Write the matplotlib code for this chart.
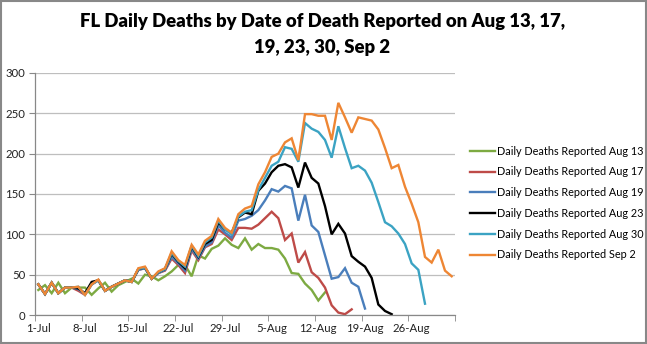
import numpy as np
import matplotlib.pyplot as plt
from matplotlib.patches import Rectangle

# days counted from 1-Jul (day 0) to 1-Sep (day 62)
tick_days = [0, 7, 14, 21, 28, 35, 42, 49, 56]
tick_labels = ["1-Jul", "8-Jul", "15-Jul", "22-Jul", "29-Jul", "5-Aug", "12-Aug", "19-Aug", "26-Aug"]

# daily deaths by date of death, one list per report date
aug13 = [31, 37, 27, 40, 27, 34, 34, 34, 25, 33,
         40, 29, 37, 41, 45, 39, 50, 48, 43, 48,
         54, 62, 62, 48, 74, 70, 82, 86, 95, 87,
         83, 95, 81, 88, 83, 83, 81, 70, 52, 51,
         39, 31, 18, 28]
aug17 = [38, 26, 40, 27, 34, 34, 30, 25, 38, 43,
         30, 35, 39, 43, 41, 56, 58, 45, 52, 55,
         70, 62, 52, 80, 68, 84, 88, 106, 100, 93,
         108, 108, 107, 112, 120, 128, 120, 93, 101, 65,
         78, 53, 46, 34, 12, 3, 1, 7]
aug19 = [38, 26, 40, 27, 34, 34, 32, 26, 38, 43,
         30, 35, 39, 43, 41, 56, 58, 45, 52, 56,
         72, 64, 55, 82, 70, 85, 90, 111, 102, 96,
         117, 119, 123, 130, 142, 156, 153, 160, 157, 117,
         149, 111, 103, 74, 45, 47, 58, 40, 35, 8]
aug23 = [38, 26, 40, 27, 34, 34, 33, 27, 41, 43,
         30, 35, 39, 43, 41, 57, 59, 45, 53, 57,
         76, 66, 58, 85, 72, 88, 93, 115, 106, 102,
         121, 127, 125, 154, 163, 177, 185, 187, 183, 158,
         189, 170, 163, 135, 100, 113, 101, 73, 66, 60,
         46, 13, 5, 1]
aug30 = [38, 26, 40, 27, 34, 34, 35, 25, 38, 43,
         30, 35, 39, 43, 41, 57, 59, 45, 53, 57,
         77, 67, 60, 86, 73, 90, 96, 117, 106, 100,
         122, 128, 130, 155, 170, 185, 190, 208, 206, 190,
         238, 231, 227, 217, 195, 234, 207, 182, 185, 179,
         164, 140, 115, 110, 101, 88, 64, 56, 14]
sep2 = [38, 26, 40, 27, 34, 34, 35, 25, 38, 44,
        30, 35, 39, 43, 41, 58, 60, 45, 54, 58,
        79, 68, 62, 87, 75, 92, 98, 119, 108, 102,
        125, 132, 135, 162, 177, 196, 200, 214, 219, 192,
        249, 249, 247, 247, 217, 263, 245, 226, 245, 243,
        241, 230, 207, 182, 186, 159, 138, 115, 72, 65,
        81, 55, 48]

series = [aug13, aug17, aug19, aug23, aug30, sep2]
names = ["Daily Deaths Reported Aug 13", "Daily Deaths Reported Aug 17",
         "Daily Deaths Reported Aug 19", "Daily Deaths Reported Aug 23",
         "Daily Deaths Reported Aug 30", "Daily Deaths Reported Sep 2"]
colors = ["#7DAA42", "#BE4B48", "#4A7EBB", "#000000", "#3BA3C3", "#EE8634"]

plt.rcParams['font.family'] = ['Lato', 'DejaVu Sans']

fig = plt.figure(figsize=(6.47, 3.44), dpi=100)
ax = fig.add_axes([35/647, 1-315/344, 420/647, 242/344])

for vals, name, c in zip(series, names, colors):
    ax.plot(np.arange(len(vals)), vals, color=c, lw=1.7, label=name,
            solid_joinstyle='miter')

ax.set_xlim(-0.5, 62.5)
ax.set_ylim(0, 300)
ax.set_yticks(np.arange(0, 301, 50))
ax.set_xticks(tick_days)
ax.set_xticklabels(tick_labels)
ax.set_xticks(np.arange(-0.5, 63, 7), minor=True)
ax.tick_params(axis='x', which='major', length=0, labelsize=8.2, pad=6, colors='#222222')
ax.tick_params(axis='x', which='minor', length=4, color='#888888', direction='out')
ax.tick_params(axis='y', length=4, color='#888888', labelsize=8.2, colors='#222222', pad=3)
ax.tick_params(axis='y', color='#888888')
ax.grid(axis='y', color='#BEBEBE', lw=0.9)
ax.set_axisbelow(True)
for s in ['top', 'right']:
    ax.spines[s].set_visible(False)
for s in ['left', 'bottom']:
    ax.spines[s].set_color('#888888')
    ax.spines[s].set_linewidth(0.9)

fig.text(0.498, 1-22/344, "FL Daily Deaths by Date of Death Reported on Aug 13, 17,",
         ha='center', va='center', fontsize=13.3, fontweight='heavy')
fig.text(0.498, 1-47/344, "19, 23, 30, Sep 2",
         ha='center', va='center', fontsize=13.3, fontweight='heavy')

fig.legend(loc='center left', bbox_to_anchor=(470/647, 1-203/344), frameon=False,
           fontsize=7.8, handlelength=2.3, handletextpad=0.2, labelspacing=0.9,
           borderpad=0, borderaxespad=0)

fig.patches.append(Rectangle((0.001, 0.002), 0.997, 0.996, transform=fig.transFigure,
                             fill=False, edgecolor='#888888', lw=1.5))

fig.savefig("out.png", dpi=100)
